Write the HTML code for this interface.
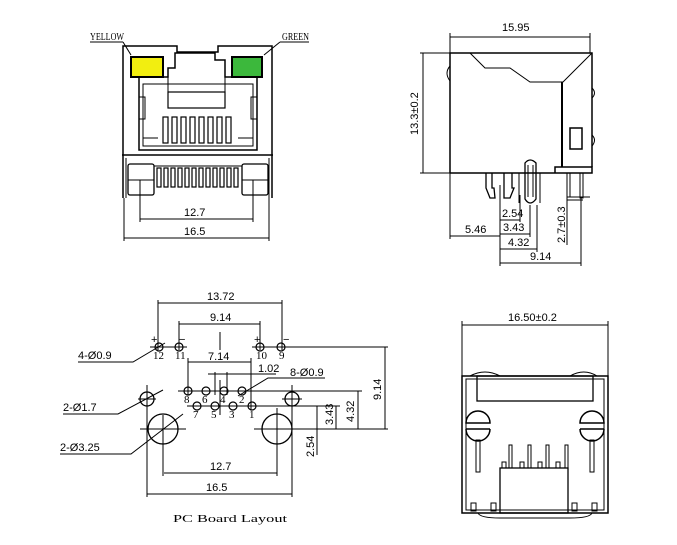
<!DOCTYPE html>
<html><head><meta charset="utf-8"><style>
html,body{margin:0;padding:0;background:#fff;}
svg{display:block;}
text{font-family:"Liberation Sans",sans-serif;font-size:11px;fill:#000;}
.s{font-family:"Liberation Serif",serif;}
</style></head><body>
<svg width="677" height="545" viewBox="0 0 677 545" xmlns="http://www.w3.org/2000/svg" stroke="#000" fill="none" stroke-width="1">
<!-- ===== Q1 front view ===== -->
<g>
<text x="90" y="40" class="s" font-size="10" stroke="none" textLength="34" lengthAdjust="spacingAndGlyphs">YELLOW</text>
<line x1="90" y1="42" x2="123" y2="42"/><line x1="123" y1="42" x2="131" y2="55"/>
<text x="282" y="40" class="s" font-size="10" stroke="none" textLength="27" lengthAdjust="spacingAndGlyphs">GREEN</text>
<line x1="280" y1="42" x2="309" y2="42"/><line x1="280" y1="42" x2="264" y2="55"/>
<path d="M123 155 V46 H177 V52 H218 V46 H272 V155" stroke-width="1.5"/>
<rect x="131" y="57" width="32" height="20" fill="#f2ee10" stroke-width="2"/>
<rect x="232" y="57" width="30" height="20" fill="#3cb83c" stroke-width="2"/>
<path d="M139 150 V77 H168 V68 H175 V53 H215 V60 H225 V77 H257 V150 Z" stroke-width="1.5"/>
<path d="M143 146 V84 H253 V146 Z"/>
<rect x="168" y="92" width="57" height="16" stroke-width="1.2"/>
<line x1="168" y1="68" x2="168" y2="92"/><line x1="225" y1="68" x2="225" y2="92"/>
<rect x="139" y="97" width="6" height="22"/><rect x="251" y="97" width="6" height="22"/>
<g stroke-width="1.2">
<rect x="163" y="117" width="5" height="26"/><rect x="172" y="117" width="5" height="26"/><rect x="181" y="117" width="5" height="26"/><rect x="190" y="117" width="5" height="26"/><rect x="199" y="117" width="5" height="26"/><rect x="208" y="117" width="5" height="26"/><rect x="217" y="117" width="5" height="26"/><rect x="226" y="117" width="5" height="26"/>
</g>
<line x1="143" y1="138" x2="158" y2="138"/><line x1="238" y1="138" x2="253" y2="138"/>
<path d="M122 155 H273" stroke-width="1.5"/>
<path d="M123 155 V198 M272 155 V198" stroke-width="1.5"/>
<path d="M126 158 V198 M269 158 V198"/>
<rect x="128" y="164" width="26" height="31" rx="2" stroke-width="1.3"/>
<rect x="242" y="164" width="26" height="31" rx="2" stroke-width="1.3"/>
<line x1="128" y1="180" x2="154" y2="180"/><line x1="242" y1="180" x2="268" y2="180"/>
<line x1="154" y1="166" x2="242" y2="166"/>
<g stroke-width="1.2">
<rect x="157" y="168" width="4" height="19"/><rect x="164" y="168" width="4" height="19"/><rect x="171" y="168" width="4" height="19"/><rect x="178" y="168" width="4" height="19"/><rect x="185" y="168" width="4" height="19"/><rect x="192" y="168" width="4" height="19"/><rect x="199" y="168" width="4" height="19"/><rect x="206" y="168" width="4" height="19"/><rect x="213" y="168" width="4" height="19"/><rect x="220" y="168" width="4" height="19"/><rect x="227" y="168" width="4" height="19"/><rect x="234" y="168" width="4" height="19"/>
</g>
<line x1="140" y1="180" x2="140" y2="222"/><line x1="253" y1="180" x2="253" y2="222"/>
<line x1="140" y1="219" x2="253" y2="219"/>
<text x="184" y="216" stroke="none" font-size="12">12.7</text>
<line x1="124" y1="198" x2="124" y2="241"/><line x1="269" y1="198" x2="269" y2="241"/>
<line x1="124" y1="238" x2="269" y2="238"/>
<text x="184" y="235" stroke="none" font-size="12">16.5</text>
</g>
<!-- ===== Q2 side view ===== -->
<g>
<text x="502" y="31" stroke="none" font-size="12">15.95</text>
<line x1="450" y1="37" x2="590" y2="37"/>
<line x1="450" y1="33" x2="450" y2="53"/><line x1="590" y1="33" x2="590" y2="53"/>
<path d="M450 173 V53 H592 V167" stroke-width="1.5"/>
<path d="M470 53 L485 68 H510 L530 82 H563 L592 53"/>
<line x1="562" y1="82" x2="562" y2="167" stroke-width="2"/>
<rect x="570" y="128" width="12" height="21" stroke-width="1.5"/>
<path d="M450 66 Q444 73 450 81"/>
<path d="M592 88 Q597 93 592 98 M592 135 Q597 140 592 146"/>
<path d="M450 173 H555 V167 H592 V173 H555" stroke-width="1.5"/>
<line x1="423" y1="53" x2="423" y2="173"/>
<line x1="420" y1="53" x2="450" y2="53"/><line x1="420" y1="173" x2="450" y2="173"/>
<text x="0" y="0" stroke="none" font-size="12" transform="translate(418,135) rotate(-90)">13.3±0.2</text>
<path d="M486 173 V188 L490 198 H495 L494 188 L492 188 V173" stroke-width="1.3"/>
<path d="M504 173 V188 L504 198 H510 L514 188 H512 V173" stroke-width="1.3"/>
<path d="M525 163 V199 Q530 207 536 199 V163 Q530 157 525 163 Z" stroke-width="1.3"/>
<path d="M528 165 V197 M533 165 V197"/>
<path d="M519 173 V203 M540 173 V203" />
<rect x="567" y="173" width="3" height="24"/><rect x="580" y="173" width="3" height="25"/>
<line x1="500" y1="185" x2="500" y2="266"/>
<line x1="520" y1="195" x2="520" y2="222"/><line x1="500" y1="220" x2="520" y2="220"/>
<text x="502" y="217" stroke="none" font-size="10">2.54</text>
<line x1="530" y1="205" x2="530" y2="237"/><line x1="500" y1="234" x2="530" y2="234"/>
<text x="503" y="231" stroke="none" font-size="10">3.43</text>
<line x1="450" y1="173" x2="450" y2="239"/><line x1="450" y1="236" x2="500" y2="236"/>
<text x="465" y="233" stroke="none" font-size="10">5.46</text>
<line x1="537" y1="205" x2="537" y2="252"/><line x1="500" y1="249" x2="537" y2="249"/>
<text x="508" y="246" stroke="none" font-size="10">4.32</text>
<line x1="581" y1="198" x2="581" y2="266"/><line x1="500" y1="263" x2="581" y2="263"/>
<text x="530" y="260" stroke="none" font-size="10">9.14</text>
<line x1="567" y1="197" x2="567" y2="245"/><line x1="567" y1="197" x2="590" y2="197"/><line x1="567" y1="200" x2="583" y2="200"/>
<text x="0" y="0" stroke="none" font-size="11" transform="translate(565,243) rotate(-90)">2.7±0.3</text>
</g>
<!-- ===== Q3 PCB layout ===== -->
<g>
<line x1="158" y1="300" x2="158" y2="350"/><line x1="282" y1="300" x2="282" y2="350"/>
<line x1="158" y1="303" x2="282" y2="303"/>
<text x="207" y="300" stroke="none" font-size="12">13.72</text>
<line x1="179" y1="321" x2="179" y2="350"/><line x1="260" y1="321" x2="260" y2="350"/>
<line x1="179" y1="324" x2="260" y2="324"/>
<text x="210" y="321" stroke="none" font-size="12">9.14</text>
<line x1="220" y1="332" x2="220" y2="350"/>
<g stroke-width="1.2">
<circle cx="159" cy="347" r="4"/><circle cx="179" cy="347" r="4"/><circle cx="260" cy="347" r="4"/><circle cx="281" cy="347" r="4"/>
</g>
<line x1="150" y1="347" x2="187" y2="347"/><line x1="252" y1="347" x2="388" y2="347"/>
<text x="151" y="343" stroke="none" font-size="10">+</text><text x="179" y="343" stroke="none" font-size="10">−</text>
<text x="254" y="343" stroke="none" font-size="10">+</text><text x="283" y="343" stroke="none" font-size="10">−</text>
<text x="153" y="359" stroke="none" font-size="8" class="s">12</text><text x="175" y="359" stroke="none" font-size="8" class="s">11</text>
<text x="256" y="359" stroke="none" font-size="8" class="s">10</text><text x="279" y="359" stroke="none" font-size="8" class="s">9</text>
<text x="78" y="359" stroke="none" font-size="11">4-Ø0.9</text>
<path d="M78 362 H133 L165 343"/>
<line x1="188" y1="362" x2="251" y2="362"/>
<line x1="188" y1="358" x2="188" y2="395"/><line x1="251" y1="358" x2="251" y2="410"/>
<text x="208" y="360" stroke="none" font-size="12">7.14</text>
<line x1="215" y1="372" x2="215" y2="395"/><line x1="227" y1="372" x2="227" y2="395"/>
<line x1="208" y1="374" x2="276" y2="374"/>
<text x="258" y="372" stroke="none" font-size="11">1.02</text>
<text x="290" y="376" stroke="none" font-size="11">8-Ø0.9</text>
<path d="M325 378 H268 L238 396"/>
<line x1="220" y1="380" x2="220" y2="415"/>
<g stroke-width="1.2">
<circle cx="188" cy="391" r="4"/><circle cx="206" cy="391" r="4"/><circle cx="224" cy="391" r="4"/><circle cx="242" cy="391" r="4"/>
<circle cx="197" cy="406" r="4"/><circle cx="215" cy="406" r="4"/><circle cx="233" cy="406" r="4"/><circle cx="252" cy="406" r="4"/>
</g>
<line x1="178" y1="391" x2="362" y2="391"/><line x1="187" y1="406" x2="340" y2="406"/>
<text x="184" y="403" stroke="none" font-size="8" class="s">8</text><text x="202" y="403" stroke="none" font-size="8" class="s">6</text>
<text x="220" y="403" stroke="none" font-size="8" class="s">4</text><text x="239" y="403" stroke="none" font-size="8" class="s">2</text>
<text x="193" y="418" stroke="none" font-size="8" class="s">7</text><text x="211" y="418" stroke="none" font-size="8" class="s">5</text>
<text x="229" y="418" stroke="none" font-size="8" class="s">3</text><text x="249" y="418" stroke="none" font-size="8" class="s">1</text>
<circle cx="147" cy="399" r="7" stroke-width="1.3"/><circle cx="292" cy="399" r="7" stroke-width="1.3"/>
<line x1="138" y1="399" x2="156" y2="399"/><line x1="282" y1="399" x2="302" y2="399"/>
<circle cx="163" cy="429" r="15" stroke-width="1.3"/><circle cx="277" cy="429" r="15" stroke-width="1.3"/>
<line x1="140" y1="429" x2="186" y2="429"/><line x1="254" y1="429" x2="388" y2="429"/>
<line x1="163" y1="415" x2="163" y2="476"/><line x1="277" y1="408" x2="277" y2="476"/>
<line x1="147" y1="385" x2="147" y2="497"/><line x1="292" y1="385" x2="292" y2="497"/>
<text x="63" y="411" stroke="none" font-size="11">2-Ø1.7</text>
<path d="M63 414 H118 L163 390"/>
<text x="60" y="451" stroke="none" font-size="11">2-Ø3.25</text>
<path d="M60 454 H131 L183 414"/>
<line x1="164" y1="473" x2="277" y2="473"/>
<text x="210" y="470" stroke="none" font-size="12">12.7</text>
<line x1="147" y1="494" x2="292" y2="494"/>
<text x="206" y="491" stroke="none" font-size="12">16.5</text>
<text x="173" y="522" stroke="none" font-size="18" class="s" textLength="114" lengthAdjust="spacingAndGlyphs">PC Board Layout</text>
<line x1="385" y1="347" x2="385" y2="429"/>
<text x="0" y="0" stroke="none" font-size="12" transform="translate(381,400) rotate(-90)">9.14</text>
<line x1="358" y1="391" x2="358" y2="429"/>
<text x="0" y="0" stroke="none" font-size="12" transform="translate(354,422) rotate(-90)">4.32</text>
<line x1="336" y1="406" x2="336" y2="429"/>
<text x="0" y="0" stroke="none" font-size="12" transform="translate(333,425) rotate(-90)">3.43</text>
<line x1="317" y1="406" x2="317" y2="455"/>
<text x="0" y="0" stroke="none" font-size="12" transform="translate(314,457) rotate(-90)">2.54</text>
</g>
<!-- ===== Q4 rear view ===== -->
<g>
<text x="508" y="321" stroke="none" font-size="12">16.50±0.2</text>
<line x1="462" y1="325" x2="608" y2="325"/>
<line x1="462" y1="321" x2="462" y2="376"/><line x1="608" y1="321" x2="608" y2="376"/>
<rect x="462" y="376" width="146" height="137" stroke-width="1.5"/>
<rect x="466" y="379" width="138" height="131"/>
<rect x="477" y="376" width="116" height="25" stroke-width="1.3"/>
<path d="M470 376 Q485 368 500 376 M570 376 Q584 368 597 376"/>
<g stroke-width="1.5">
<path d="M466 423 A12 12 0 0 1 490 423 Z"/><path d="M466 429 A12 12 0 0 0 490 429"/><line x1="466" y1="429" x2="490" y2="429"/>
<path d="M580 423 A12 12 0 0 1 604 423 Z"/><path d="M580 429 A12 12 0 0 0 604 429"/><line x1="580" y1="429" x2="604" y2="429"/>
</g>
<rect x="476" y="440" width="4" height="32"/><rect x="590" y="440" width="4" height="32"/>
<rect x="500" y="468" width="68" height="45" stroke-width="1.3"/>
<rect x="509" y="445" width="3" height="23"/><rect x="528" y="445" width="3" height="23"/><rect x="546" y="445" width="3" height="23"/><rect x="565" y="445" width="3" height="23"/>
<rect x="502" y="462" width="4" height="6"/><rect x="520" y="462" width="4" height="6"/><rect x="538" y="462" width="4" height="6"/><rect x="556" y="462" width="4" height="6"/>
<rect x="471" y="503" width="5" height="8"/><rect x="491" y="503" width="5" height="8"/><rect x="572" y="503" width="5" height="8"/><rect x="592" y="503" width="5" height="8"/>
<path d="M478 513 Q480 518 500 518 H570 Q590 518 592 513"/>
</g>
</svg>
</body></html>
